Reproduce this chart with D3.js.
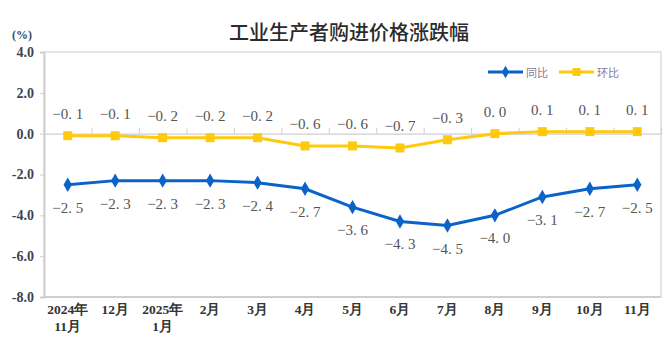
<!DOCTYPE html>
<html>
<head>
<meta charset="utf-8">
<script src="https://cdn.jsdelivr.net/npm/d3@7"></script>
<style>
  html, body { margin: 0; padding: 0; background: #fff; }
  svg { display: block; }
</style>
</head>
<body>
<svg id="chart" width="671" height="350"></svg>
<script>
// Monthly categories (first line / second line of each axis label)
const monthsLine1 = ["2024年", "12月", "2025年", "2月", "3月", "4月", "5月", "6月", "7月", "8月", "9月", "10月", "11月"];
const monthsLine2 = ["11月", "", "1月", "", "", "", "", "", "", "", "", "", ""];
// Year-on-year change (同比), %
const yoyValues = [-2.5, -2.3, -2.3, -2.3, -2.4, -2.7, -3.6, -4.3, -4.5, -4.0, -3.1, -2.7, -2.5];
// Month-on-month change (环比), %
const momValues = [-0.1, -0.1, -0.2, -0.2, -0.2, -0.6, -0.6, -0.7, -0.3, 0.0, 0.1, 0.1, 0.1];
// Y-axis ticks
const yTicks = [4, 2, 0, -2, -4, -6, -8];

const svg = d3.select("#chart");
const plotLeft = 44, plotRight = 661, plotTop = 52, plotBottom = 297;

const x = d3.scaleBand().domain(d3.range(monthsLine1.length)).range([plotLeft, plotRight]);
const y = d3.scaleLinear().domain([-8, 4]).range([plotBottom, plotTop]);

const blue = "#0a63c9", yellow = "#ffc90e";

// Title
svg.append("text")
  .attr("x", 349).attr("y", 40)
  .attr("text-anchor", "middle")
  .attr("font-family", "'Noto Sans CJK SC', sans-serif")
  .attr("font-size", 20).attr("font-weight", 500)
  .attr("fill", "#2b2b2b")
  .text("工业生产者购进价格涨跌幅");

// Unit label
svg.append("text")
  .attr("x", 22).attr("y", 39)
  .attr("text-anchor", "middle")
  .attr("font-family", "'Liberation Serif', serif")
  .attr("font-size", 12).attr("font-weight", "bold")
  .attr("fill", "#3b4a66")
  .text("(%)");

// Plot frame (top and right)
svg.append("rect")
  .attr("x", plotLeft).attr("y", plotTop)
  .attr("width", plotRight - plotLeft).attr("height", plotBottom - plotTop)
  .attr("fill", "none").attr("stroke", "#d6d6d6").attr("stroke-width", 1.2);

// Left axis
const yAxis = d3.axisLeft(y).tickValues(yTicks).tickSize(4).tickPadding(6)
  .tickFormat(d => d3.format(".1f")(d).replace("−", "-"));
const gy = svg.append("g").attr("transform", `translate(${plotLeft},0)`).call(yAxis);
gy.select(".domain").attr("stroke", "#cfcfcf").attr("stroke-width", 2);
gy.selectAll(".tick line").attr("stroke", "#cfcfcf");
gy.selectAll(".tick text")
  .attr("font-family", "'Liberation Serif', serif")
  .attr("font-size", 14).attr("font-weight", "bold")
  .attr("fill", "#3a4356");

// Bottom border line
svg.append("line")
  .attr("x1", plotLeft).attr("x2", plotRight).attr("y1", plotBottom).attr("y2", plotBottom)
  .attr("stroke", "#cfcfcf").attr("stroke-width", 2);

// Zero line with category-boundary ticks
const xAxis = d3.axisTop(d3.scaleLinear().domain([0, monthsLine1.length]).range([plotLeft, plotRight]))
  .tickValues(d3.range(1, monthsLine1.length)).tickSize(6).tickFormat("");
const gx = svg.append("g").attr("transform", `translate(0,${y(0)})`).call(xAxis);
gx.select(".domain").attr("stroke", "#cfcfcf").attr("stroke-width", 1.2);
gx.selectAll(".tick line").attr("stroke", "#cfcfcf");

// Category labels
const cx = i => x(i) + x.bandwidth() / 2;
const lab = svg.append("g")
  .attr("font-family", "'Liberation Serif', serif")
  .attr("font-size", 13.5).attr("font-weight", "bold")
  .attr("fill", "#333").attr("text-anchor", "middle");
monthsLine1.forEach((m, i) => {
  lab.append("text").attr("x", cx(i)).attr("y", 314).text(m);
  if (monthsLine2[i]) lab.append("text").attr("x", cx(i)).attr("y", 331).text(monthsLine2[i]);
});

const line = d3.line().x((d, i) => cx(i)).y(d => y(d));

// Month-on-month series
svg.append("path").datum(momValues)
  .attr("d", line).attr("fill", "none")
  .attr("stroke", yellow).attr("stroke-width", 3);
svg.append("g").selectAll("rect").data(momValues).join("rect")
  .attr("x", (d, i) => cx(i) - 4.5).attr("y", d => y(d) - 4.5)
  .attr("width", 9).attr("height", 9).attr("fill", yellow);

// Year-on-year series
svg.append("path").datum(yoyValues)
  .attr("d", line).attr("fill", "none")
  .attr("stroke", blue).attr("stroke-width", 3);
const diamond = d3.symbol().type(d3.symbolDiamond).size(60);
svg.append("g").selectAll("path").data(yoyValues).join("path")
  .attr("transform", (d, i) => `translate(${cx(i)},${y(d)})`)
  .attr("d", diamond).attr("fill", blue);

// Value labels
const fmt = v => d3.format(".1f")(v).replace("-", "−").replace(".", ". ");
const vl = svg.append("g")
  .attr("font-family", "'Liberation Serif', serif")
  .attr("font-size", 15).attr("fill", "#555")
  .attr("text-anchor", "middle");
momValues.forEach((v, i) => {
  vl.append("text").attr("x", cx(i)).attr("y", y(v) - 17).text(fmt(v));
});
yoyValues.forEach((v, i) => {
  vl.append("text").attr("x", cx(i)).attr("y", y(v) + 28).text(fmt(v));
});

// Legend
const legend = svg.append("g");
const legendItems = [
  { name: "同比", color: blue, x0: 488, type: "diamond" },
  { name: "环比", color: yellow, x0: 559, type: "square" }
];
legendItems.forEach(it => {
  legend.append("line")
    .attr("x1", it.x0).attr("x2", it.x0 + 35).attr("y1", 72).attr("y2", 72)
    .attr("stroke", it.color).attr("stroke-width", 3);
  if (it.type === "diamond") {
    legend.append("path").attr("transform", `translate(${it.x0 + 17.5},72)`)
      .attr("d", d3.symbol().type(d3.symbolDiamond).size(45)).attr("fill", it.color);
  } else {
    legend.append("rect").attr("x", it.x0 + 13.5).attr("y", 68)
      .attr("width", 8).attr("height", 8).attr("fill", it.color);
  }
  legend.append("text")
    .attr("x", it.x0 + 38).attr("y", 76.5)
    .attr("font-family", "'Noto Sans CJK SC', sans-serif")
    .attr("font-size", 11).attr("fill", "#8a7896")
    .text(it.name);
});
</script>
</body>
</html>
